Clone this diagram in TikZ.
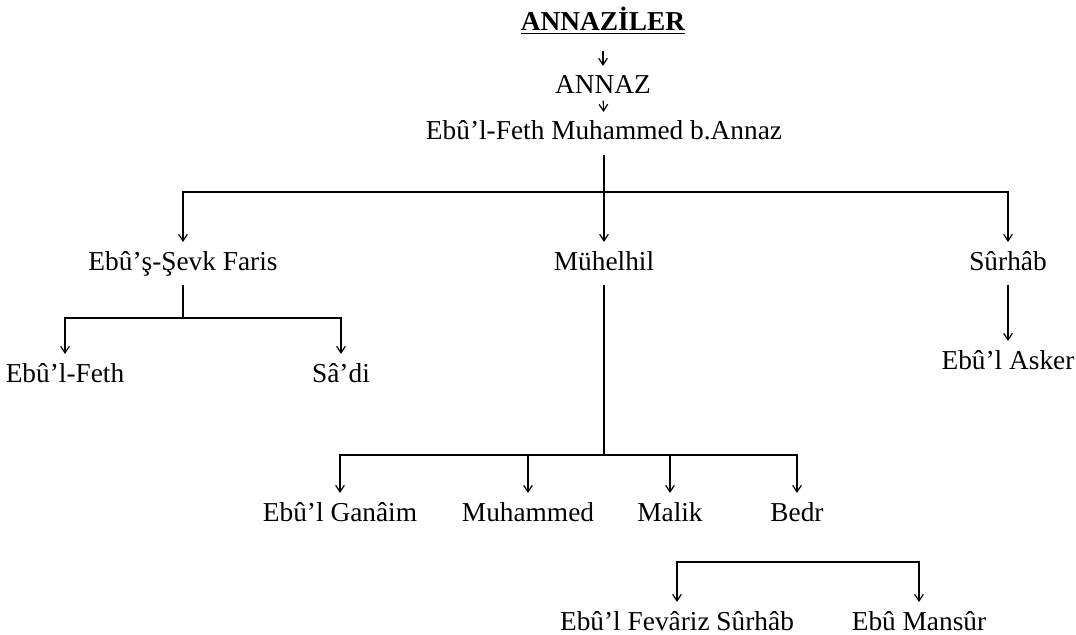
\documentclass[tikz,border=0pt]{standalone}
\usepackage{fontspec}
\setmainfont{Liberation Serif}
\usetikzlibrary{arrows.meta}
\begin{document}
\begin{tikzpicture}[x=0.75pt,y=-0.75pt,line width=0.9pt,>={Straight Barb[length=5pt,width=6.5pt]},kisi/.style={anchor=base, font=\fontsize{20.5}{23}\selectfont, text height=14pt, text depth=4pt, inner sep=0pt, outer sep=7pt},baslik/.style={kisi, font=\fontsize{20.5}{23}\selectfont\bfseries},]
            \useasboundingbox (0,0) rectangle (1076,635);
            \node[baslik] (title) at (603,31) {\underline{ANNAZİLER}};
            \node[kisi] (annaz) at (603,94) {ANNAZ};
            \node[kisi] (ebufeth) at (604,140) {Ebû’l-Feth Muhammed b.Annaz};
            \node[kisi] (faris) at (183,270) {Ebû’ş-Şevk Faris};
            \node[kisi] (muhelhil) at (604,270) {Mühelhil};
            \node[kisi] (surhab) at (1008,270) {Sûrhâb};
            \node[kisi] (feth) at (65,382) {Ebû’l-Feth};
            \node[kisi] (sadi) at (341,382) {Sâ’di};
            \node[kisi] (asker) at (1008,369) {Ebû’l Asker};
            \node[kisi] (ganaim) at (340,521) {Ebû’l Ganâim};
            \node[kisi] (muhammed) at (528,521) {Muhammed};
            \node[kisi] (malik) at (670,521) {Malik};
            \node[kisi] (bedr) at (797,521) {Bedr};
            \node[kisi] (fevariz) at (677,630) {Ebû’l Fevâriz Sûrhâb};
            \node[kisi] (mansur) at (919,630) {Ebû Mansûr};
            \coordinate (bar1) at (604,192);
            \coordinate (bar2) at (183,318);
            \coordinate (bar3) at (604,455);
            \coordinate (bar4) at (798,562);
            \draw[->, shorten <=4pt] (title) -- (annaz);
            \draw[->, shorten <=-6pt] (annaz) -- (ebufeth);
            \draw (ebufeth) -- (bar1);
            \draw[->] (bar1) -| (faris);
            \draw[->] (bar1) -- (muhelhil);
            \draw[->] (bar1) -| (surhab);
            \draw (faris) -- (bar2);
            \draw[->] (bar2) -| (feth);
            \draw[->] (bar2) -| (sadi);
            \draw[->] (surhab) -- (asker);
            \draw (muhelhil) -- (bar3);
            \draw[->] (bar3) -| (ganaim);
            \draw[->] (bar3) -| (muhammed);
            \draw[->] (bar3) -| (malik);
            \draw[->] (bar3) -| (bedr);
            \draw[->] (bar4) -| (fevariz);
            \draw[->] (bar4) -| (mansur);
        \end{tikzpicture}
\end{document}
